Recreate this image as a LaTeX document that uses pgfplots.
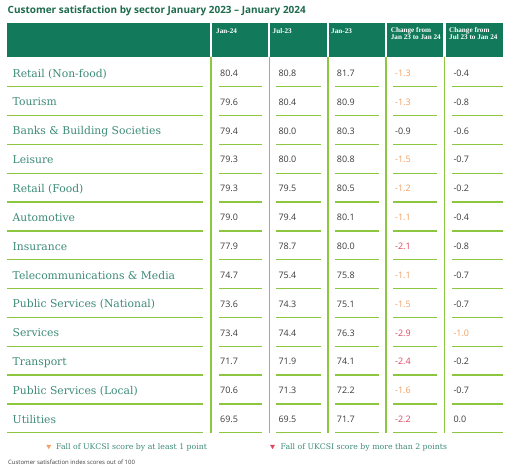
\documentclass[border=0pt]{standalone}
\usepackage{pgfplots}
\usepackage{pgfplotstable}
\pgfplotsset{compat=1.18}
\usepackage{fontspec}
\setmainfont{Open Sans}
\newfontfamily\labfont{DejaVu Serif}
\newfontfamily\hfont{Liberation Serif}
\definecolor{hdr}{HTML}{127A5A}
\definecolor{ttl}{HTML}{1D6B4C}
\definecolor{lab}{HTML}{3E8B78}
\definecolor{lg}{HTML}{8DC63F}
\definecolor{val}{HTML}{3C3C3C}
\definecolor{org}{HTML}{F2A064}
\definecolor{rd}{HTML}{E0455E}

\pgfplotstableread[col sep=comma]{
y,label,a,b,c,d,dk,e,ek
73.3,Retail (Non-food),80.4,80.8,81.7,-1.3,1,-0.4,0
102.1,Tourism,79.6,80.4,80.9,-1.3,1,-0.8,0
131.0,Banks \& Building Societies,79.4,80.0,80.3,-0.9,0,-0.6,0
159.8,Leisure,79.3,80.0,80.8,-1.5,1,-0.7,0
188.6,Retail (Food),79.3,79.5,80.5,-1.2,1,-0.2,0
217.5,Automotive,79.0,79.4,80.1,-1.1,1,-0.4,0
246.3,Insurance,77.9,78.7,80.0,-2.1,2,-0.8,0
275.1,Telecommunications \& Media,74.7,75.4,75.8,-1.1,1,-0.7,0
303.9,Public Services (National),73.6,74.3,75.1,-1.5,1,-0.7,0
332.8,Services,73.4,74.4,76.3,-2.9,2,-1.0,1
361.6,Transport,71.7,71.9,74.1,-2.4,2,-0.2,0
390.4,Public Services (Local),70.6,71.3,72.2,-1.6,1,-0.7,0
419.3,Utilities,69.5,69.5,71.7,-2.2,2,0.0,0
}\rows

\pgfplotsset{
  txt/.style={draw=none, mark=none, nodes near coords, point meta=explicit symbolic,
    every node near coord/.append style={anchor=base west, inner sep=0pt, #1}},
  rect/.style={draw=none, mark=none, fill=#1},
}

\begin{document}
\begin{tikzpicture}
\begin{axis}[
  scale only axis, width=510bp, height=470bp,
  xmin=0, xmax=510, ymin=0, ymax=470, y dir=reverse,
  hide axis, clip=false, unbounded coords=jump,
]
% background
\addplot[rect=white] coordinates {(0,0)(510,0)(510,470)(0,470)} --cycle;
% header cells
\addplot[rect=hdr] coordinates {(7,23.3)(210,23.3)(210,57.3)(7,57.3)} --cycle;
\addplot[rect=hdr] coordinates {(212,23.3)(268.3,23.3)(268.3,57.3)(212,57.3)} --cycle;
\addplot[rect=hdr] coordinates {(270.3,23.3)(326.7,23.3)(326.7,57.3)(270.3,57.3)} --cycle;
\addplot[rect=hdr] coordinates {(329,23.3)(385,23.3)(385,57.3)(329,57.3)} --cycle;
\addplot[rect=hdr] coordinates {(387,23.3)(443.3,23.3)(443.3,57.3)(387,57.3)} --cycle;
\addplot[rect=hdr] coordinates {(445.7,23.3)(502.7,23.3)(502.7,57.3)(445.7,57.3)} --cycle;
% row rules
\addplot[lg, line width=1.4pt, mark=none] coordinates {
(7,86.7)(503,86.7)(7,nan)
(7,115.5)(503,115.5)(7,nan)
(7,144.4)(503,144.4)(7,nan)
(7,173.2)(503,173.2)(7,nan)
(7,202.0)(503,202.0)(7,nan)
(7,230.9)(503,230.9)(7,nan)
(7,259.7)(503,259.7)(7,nan)
(7,288.5)(503,288.5)(7,nan)
(7,317.3)(503,317.3)(7,nan)
(7,346.2)(503,346.2)(7,nan)
(7,375.0)(503,375.0)(7,nan)
(7,403.8)(503,403.8)(7,nan)
(7,432.7)(503,432.7)
};
% gaps in rules
\addplot[rect=white] coordinates {(203,70)(218.5,70)(218.5,440)(203,440)} --cycle;
\addplot[rect=white] coordinates {(262,70)(276,70)(276,440)(262,440)} --cycle;
\addplot[rect=white] coordinates {(320.5,70)(335,70)(335,440)(320.5,440)} --cycle;
\addplot[rect=white] coordinates {(378.5,70)(393,70)(393,440)(378.5,440)} --cycle;
\addplot[rect=white] coordinates {(437,70)(452,70)(452,440)(437,440)} --cycle;
% column rules
\addplot[lg, line width=1.1pt, mark=none] coordinates {
(211,57.3)(211,433.4)(211,nan)
(269.5,57.3)(269.5,433.4)(211,nan)
(328,57.3)(328,433.4)(211,nan)
(386,57.3)(386,433.4)(211,nan)
(444.5,57.3)(444.5,433.4)
};
% title
\addplot[txt={font=\fontsize{10}{12}\selectfont\bfseries, text=ttl}] coordinates {(7.5,14) [Customer satisfaction by sector January 2023 -- January 2024]};
% header labels
\addplot[txt={font=\hfont\fontsize{7.2}{8}\selectfont\bfseries, text=white}] coordinates {
(216,33.5) [Jan-24] (272.5,33.5) [Jul-23] (331,33.5) [Jan-23]
(390.7,32.5) [Change from] (390.7,40) [Jan 23 to Jan 24]
(449,32.5) [Change from] (449,40) [Jul 23 to Jan 24]};
% row labels
\addplot[txt={font=\labfont\fontsize{10.8}{12}\selectfont, text=lab}] table[x expr=12.5, y expr=\thisrow{y}+3.9, meta=label] {\rows};
% values
\addplot[txt={font=\fontsize{9}{11}\selectfont, text=val}] table[x expr=220, y expr=\thisrow{y}+3.2, meta=a] {\rows};
\addplot[txt={font=\fontsize{9}{11}\selectfont, text=val}] table[x expr=278.3, y expr=\thisrow{y}+3.2, meta=b] {\rows};
\addplot[txt={font=\fontsize{9}{11}\selectfont, text=val}] table[x expr=336.7, y expr=\thisrow{y}+3.2, meta=c] {\rows};
\addplot[txt={font=\fontsize{9}{11}\selectfont, text=val}, restrict expr to domain={\thisrow{dk}}{0:0}] table[x expr=395, y expr=\thisrow{y}+3.2, meta=d] {\rows};
\addplot[txt={font=\fontsize{9}{11}\selectfont, text=org}, restrict expr to domain={\thisrow{dk}}{1:1}] table[x expr=395, y expr=\thisrow{y}+3.2, meta=d] {\rows};
\addplot[txt={font=\fontsize{9}{11}\selectfont, text=rd}, restrict expr to domain={\thisrow{dk}}{2:2}] table[x expr=395, y expr=\thisrow{y}+3.2, meta=d] {\rows};
\addplot[txt={font=\fontsize{9}{11}\selectfont, text=val}, restrict expr to domain={\thisrow{ek}}{0:0}] table[x expr=453.3, y expr=\thisrow{y}+3.2, meta=e] {\rows};
\addplot[txt={font=\fontsize{9}{11}\selectfont, text=org}, restrict expr to domain={\thisrow{ek}}{1:1}] table[x expr=453.3, y expr=\thisrow{y}+3.2, meta=e] {\rows};
% legend
\addplot[only marks, mark=triangle*, mark size=2.3, mark options={rotate=180, fill=org, draw=org}] coordinates {(48.7,446.3)};
\addplot[only marks, mark=triangle*, mark size=2.3, mark options={rotate=180, fill=rd, draw=rd}] coordinates {(272.5,446.3)};
\addplot[txt={font=\labfont\fontsize{7.8}{9}\selectfont, text=lab}] coordinates {
(56,449.2) [Fall of UKCSI score by at least 1 point]
(280.5,449.2) [Fall of UKCSI score by more than 2 points]};
% footnote
\addplot[txt={font=\fontsize{6}{7}\selectfont, text=black!75}] coordinates {(8,464) [Customer satisfaction index scores out of 100]};
\end{axis}
\end{tikzpicture}
\end{document}
